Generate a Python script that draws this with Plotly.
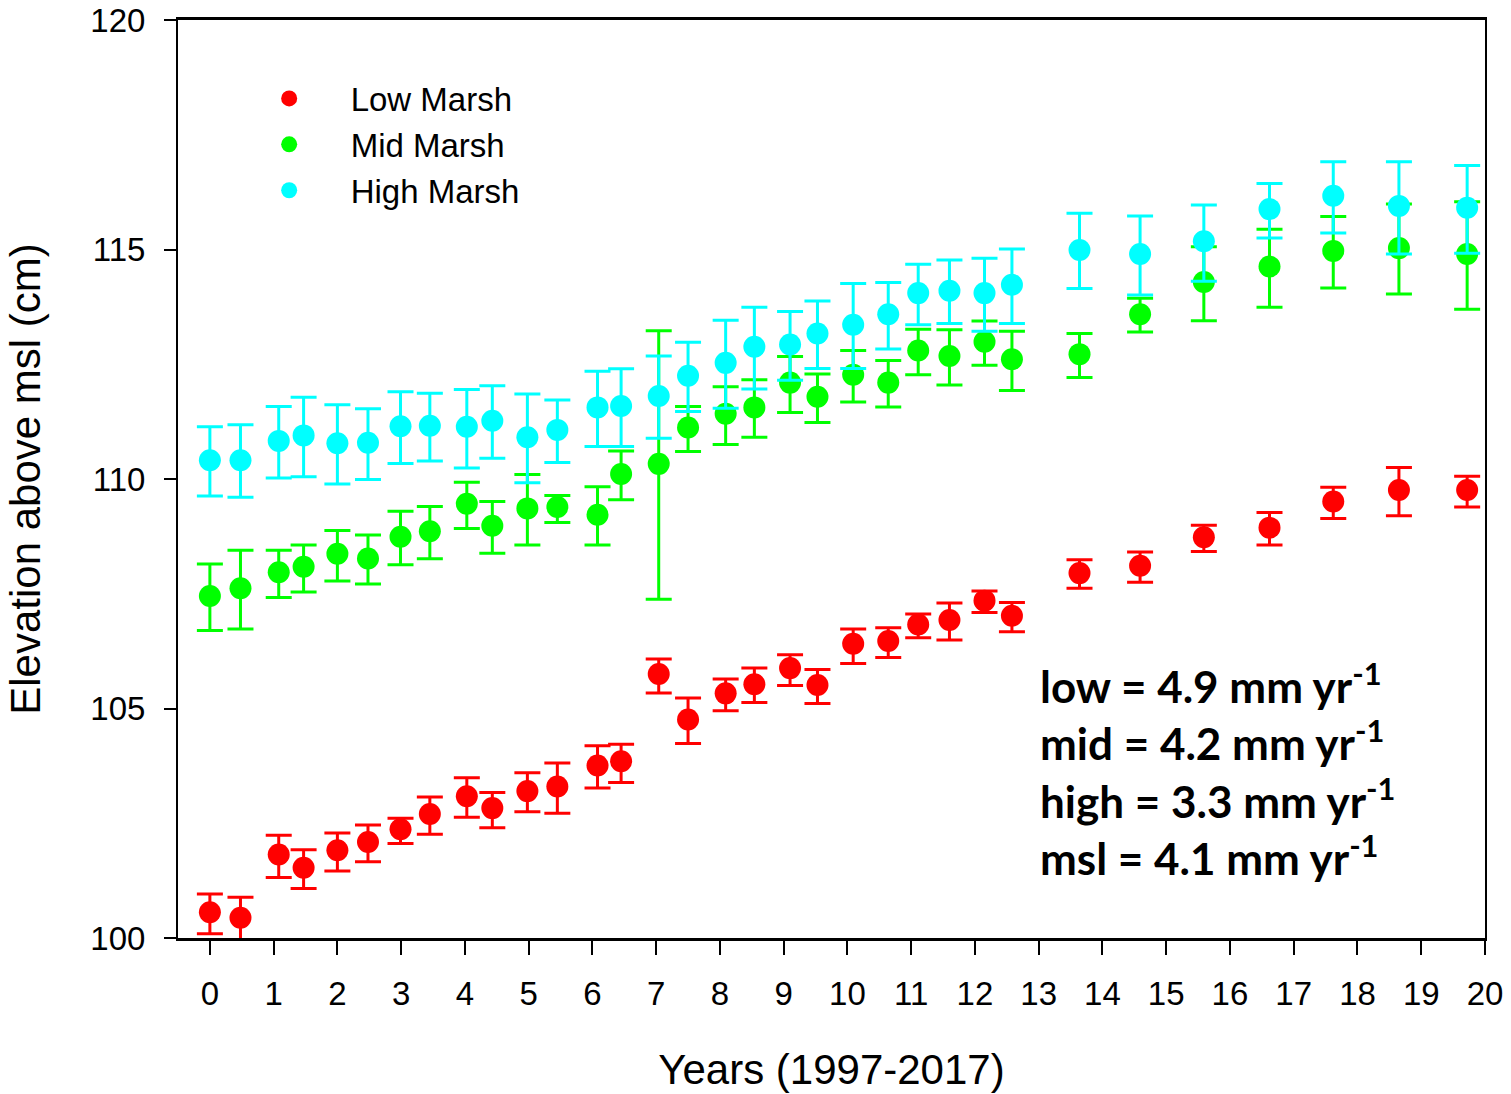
import plotly.graph_objects as go

# ---- data ----
years = [0.0, 0.48, 1.08, 1.47, 2.0, 2.48, 2.99, 3.45, 4.03, 4.43, 4.98, 5.45, 6.08, 6.45,
         7.04, 7.5, 8.09, 8.54, 9.1, 9.53, 10.09, 10.64, 11.11, 11.6, 12.15, 12.58,
         13.64, 14.59, 15.59, 16.62, 17.62, 18.65, 19.72]

low_mean = [100.56, 100.44, 101.82, 101.53, 101.91, 102.09, 102.37, 102.70, 103.09, 102.83,
            103.20, 103.30, 103.76, 103.85, 105.75, 104.76, 105.33, 105.53, 105.88, 105.51,
            106.41, 106.47, 106.83, 106.93, 107.35, 107.02, 107.95, 108.11, 108.73, 108.94,
            109.51, 109.76, 109.76]
low_upper = [100.96, 100.89, 102.24, 101.92, 102.29, 102.46, 102.61, 103.07, 103.49, 103.17,
             103.60, 103.81, 104.19, 104.22, 106.08, 105.23, 105.64, 105.88, 106.17, 105.85,
             106.73, 106.76, 107.06, 107.30, 107.56, 107.31, 108.24, 108.41, 108.99, 109.27,
             109.82, 110.25, 110.06]
low_lower = [100.09, 99.95, 101.32, 101.08, 101.46, 101.66, 102.06, 102.26, 102.63, 102.40,
             102.75, 102.72, 103.27, 103.39, 105.34, 104.24, 104.95, 105.13, 105.50, 105.11,
             105.98, 106.11, 106.54, 106.49, 107.09, 106.67, 107.62, 107.75, 108.42, 108.56,
             109.14, 109.20, 109.39]

mid_mean = [107.45, 107.62, 107.97, 108.09, 108.37, 108.27, 108.74, 108.86, 109.46, 108.98,
            109.36, 109.39, 109.22, 110.11, 110.33, 111.12, 111.42, 111.56, 112.10, 111.79,
            112.27, 112.10, 112.80, 112.68, 112.99, 112.61, 112.72, 113.59, 114.29, 114.63,
            114.97, 115.03, 114.90]
mid_upper = [108.15, 108.45, 108.45, 108.56, 108.88, 108.78, 109.30, 109.40, 109.93, 109.51,
             110.10, 109.64, 109.83, 110.61, 113.23, 111.58, 112.01, 112.16, 112.67, 112.29,
             112.80, 112.58, 113.26, 113.25, 113.44, 113.22, 113.17, 113.94, 115.06, 115.44,
             115.72, 115.99, 116.04]
mid_lower = [106.70, 106.73, 107.42, 107.54, 107.78, 107.71, 108.13, 108.26, 108.92, 108.38,
             108.56, 109.05, 108.56, 109.55, 107.38, 110.60, 110.75, 110.91, 111.45, 111.23,
             111.68, 111.57, 112.27, 112.05, 112.48, 111.93, 112.21, 113.20, 113.45, 113.74,
             114.16, 114.03, 113.70]

high_mean = [110.41, 110.41, 110.83, 110.95, 110.78, 110.79, 111.15, 111.16, 111.14, 111.27,
             110.91, 111.07, 111.56, 111.59, 111.81, 112.25, 112.53, 112.88, 112.93, 113.17,
             113.36, 113.59, 114.05, 114.10, 114.05, 114.23, 114.99, 114.90, 115.18, 115.88,
             116.17, 115.95, 115.91]
high_upper = [111.14, 111.18, 111.58, 111.78, 111.62, 111.53, 111.90, 111.87, 111.95, 112.03,
              111.85, 111.72, 112.35, 112.40, 112.68, 112.98, 113.46, 113.74, 113.65, 113.88,
              114.26, 114.28, 114.68, 114.77, 114.81, 115.01, 115.79, 115.73, 115.97, 116.44,
              116.91, 116.91, 116.83]
high_lower = [109.63, 109.60, 110.02, 110.05, 109.89, 109.99, 110.34, 110.39, 110.24, 110.45,
              109.92, 110.36, 110.71, 110.71, 110.89, 111.47, 111.54, 111.96, 112.15, 112.41,
              112.41, 112.83, 113.36, 113.39, 113.22, 113.39, 114.15, 114.01, 114.31, 115.25,
              115.36, 114.90, 114.92]

series_names = ["Low Marsh", "Mid Marsh", "High Marsh"]
series_colors = ["#FF0000", "#00FF00", "#00FFFF"]
rate_lines = ["low = 4.9 mm yr<sup>-1</sup>", "mid = 4.2 mm yr<sup>-1</sup>",
              "high = 3.3 mm yr<sup>-1</sup>", "msl = 4.1 mm yr<sup>-1</sup>"]
x_ticks = list(range(0, 21))
y_ticks = [100, 105, 110, 115, 120]

FONT = "Liberation Sans, Arial, sans-serif"

fig = go.Figure()
for name, color, mean, up, lo in zip(
        series_names, series_colors,
        [low_mean, mid_mean, high_mean],
        [low_upper, mid_upper, high_upper],
        [low_lower, mid_lower, high_lower]):
    fig.add_trace(go.Scatter(
        x=years, y=mean, mode="markers", name=name,
        marker=dict(color=color, size=22, line=dict(width=0)),
        error_y=dict(type="data", symmetric=False,
                     array=[u - m for u, m in zip(up, mean)],
                     arrayminus=[m - l for m, l in zip(mean, lo)],
                     color=color, thickness=3, width=13),
        cliponaxis=True,
    ))

for i, txt in enumerate(rate_lines):
    fig.add_annotation(
        text=txt, xref="paper", yref="paper",
        x=0.658, y=[0.277, 0.215, 0.152, 0.090][i],
        xanchor="left", yanchor="middle", showarrow=False,
        font=dict(family="Lato, Carlito, sans-serif", size=44, color="black", weight="bold"),
    )

fig.update_layout(
    width=1511, height=1094,
    margin=dict(l=178, r=26, t=20, b=156, autoexpand=False),
    paper_bgcolor="white", plot_bgcolor="white",
    font=dict(family=FONT, color="black"),
    showlegend=True,
    legend=dict(x=0.038, y=0.945, xanchor="left", yanchor="top",
                font=dict(family=FONT, size=33, color="black"),
                itemwidth=113, tracegroupgap=0, bgcolor="rgba(0,0,0,0)"),
    xaxis=dict(range=[-0.5, 20], tickmode="array", tickvals=x_ticks,
               ticks="outside", ticklen=14, tickwidth=2, tickcolor="black",
               showline=True, linecolor="black", linewidth=3, mirror=True,
               showgrid=False, zeroline=False, automargin=False,
               ticklabeloverflow="allow",
               tickfont=dict(family=FONT, size=33), ticklabelstandoff=10,
               title=dict(text="Years (1997-2017)", font=dict(family=FONT, size=42), standoff=45)),
    yaxis=dict(range=[100, 120], tickmode="array", tickvals=y_ticks,
               ticks="outside", ticklen=12, tickwidth=2, tickcolor="black",
               showline=True, linecolor="black", linewidth=2, mirror=True,
               showgrid=False, zeroline=False, automargin=False,
               ticklabeloverflow="allow",
               tickfont=dict(family=FONT, size=33), ticklabelstandoff=12,
               title=dict(text="Elevation above msl (cm)", font=dict(family=FONT, size=42), standoff=37)),
)

# remove the browser's default 8px body margin so the figure fills the window exactly
fig.write_html("out.html",
               config={"displayModeBar": False},
               post_script="document.body.style.margin='0';document.body.style.overflow='hidden';")
